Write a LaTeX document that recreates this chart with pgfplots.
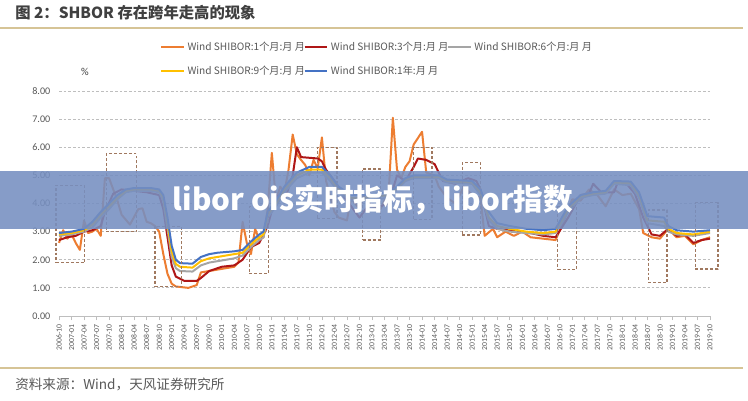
\documentclass[border=0pt]{standalone}
\usepackage{fontspec}
\setmainfont{Carlito}
\newfontfamily\cjk{Noto Sans CJK SC}
\usepackage{pgfplots}
\pgfplotsset{compat=1.18}

\definecolor{cOne}{RGB}{237,125,49}
\definecolor{cThree}{RGB}{175,22,22}
\definecolor{cSix}{RGB}{165,165,165}
\definecolor{cNine}{RGB}{255,192,0}
\definecolor{cYear}{RGB}{68,114,196}
\definecolor{boxc}{RGB}{160,120,95}
\definecolor{gridc}{RGB}{190,190,190}
\definecolor{labc}{RGB}{89,89,89}
\definecolor{titlec}{RGB}{64,64,64}
\definecolor{rulec}{RGB}{214,196,150}
\definecolor{bandc}{RGB}{118,143,193}

\begin{document}
\begin{tikzpicture}
\path[use as bounding box, fill=white] (0,0) rectangle (561pt,300pt);

% title, rules, source
\node[anchor=west, inner sep=0pt, text=titlec, font=\cjk\bfseries\fontsize{11.5}{12}\selectfont]
  at (11.25pt,290.5pt) {图 2：SHBOR 存在跨年走高的现象};
\draw[rulec, line width=1.1pt] (0pt,279pt) -- (557pt,279pt);
\draw[rulec, line width=1.1pt] (0pt,24pt) -- (557pt,24pt);
\node[anchor=west, inner sep=0pt, text=labc, font=\cjk\fontsize{10.2}{11}\selectfont]
  at (11.25pt,11.5pt) {资料来源：Wind，天风证券研究所};
\node[text=titlec, font=\fontsize{8}{9}\selectfont, inner sep=0pt] at (63.75pt,246pt) {\%};

\begin{axis}[
  scale only axis,
  width=488.25pt, height=168.75pt,
  at={(44.25pt,63pt)}, anchor=south west,
  xmin=0, xmax=156, ymin=0, ymax=8,
  clip=false,
  axis x line*=bottom, axis y line*=left,
  y axis line style={draw=none},
  x axis line style={draw=gridc, line width=0.6pt},
  ytick={0,1,...,8},
  ymajorgrids,
  grid style={gridc, line width=0.6pt, dash pattern=on 2pt off 1.5pt},
  ytick style={draw=none},
  xtick={0,3,...,156},
  xtick style={draw=gridc, line width=0.5pt},
  major tick length=3pt,
  tick align=outside,
  xticklabels={2006-10,2007-01,2007-04,2007-07,2007-10,2008-01,2008-04,2008-07,2008-10,2009-01,2009-04,2009-07,2009-10,2010-01,2010-04,2010-07,2010-10,2011-01,2011-04,2011-07,2011-10,2012-01,2012-04,2012-07,2012-10,2013-01,2013-04,2013-07,2013-10,2014-01,2014-04,2014-07,2014-10,2015-01,2015-04,2015-07,2015-10,2016-01,2016-04,2016-07,2016-10,2017-01,2017-04,2017-07,2017-10,2018-01,2018-04,2018-07,2018-10,2019-01,2019-04,2019-07,2019-10},
  xticklabel style={rotate=90, anchor=east, text=labc, font=\fontsize{5.8}{6}\selectfont},
  yticklabel style={text=labc, font=\fontsize{7.6}{8}\selectfont,
    /pgf/number format/fixed, /pgf/number format/fixed zerofill,
    /pgf/number format/precision=2, /pgf/number format/assume math mode=true},
  legend columns=3,
  legend cell align=left,
  legend style={draw=none, fill=none, at={(0.155,1.23)}, anchor=north west,
    inner sep=0pt, row sep=6pt, text=labc, font=\cjk\fontsize{7.6}{8.5}\selectfont,
    /tikz/every even column/.append style={column sep=-3pt}},
  legend image code/.code={\draw[#1] (0pt,0pt) -- (17pt,0pt);},
  every axis plot/.append style={line width=1.5pt, line join=round},
]

% SHIBOR 1M
\addplot[cOne] coordinates {
(0,2.6)(1,3.05)(2,2.75)(3,2.9)(4,2.6)(5,2.35)(6,3.4)(7,2.95)(8,3.0)(9,3.1)(10,2.85)
(11,4.9)(12,4.9)(13,4.5)(14,4.1)(15,3.6)(17,3.25)(19,3.8)(20,3.83)(21,3.35)(22,3.3)
(23,3.2)(24,3.0)(25,2.2)(26,1.5)(27,1.15)(28,1.05)(31,1.0)(33,1.1)(34,1.55)(36,1.6)
(38,1.65)(40,1.7)(42,1.75)(43,1.9)(44,3.35)(45,2.6)(46,2.2)(47,3.1)(48,2.7)(49,2.8)
(50,3.8)(51,5.8)(52,4.1)(53,4.6)(54,4.4)(55,5.2)(56,6.45)(57,5.75)(58,5.55)(59,5.37)
(60,5.0)(61,5.55)(62,5.25)(63,6.35)(64,4.8)(65,4.25)(66,3.7)(67,3.5)(69,3.4)(70,4.2)
(72,3.8)(73,4.25)(75,3.9)(77,3.8)(79,4.4)(80,7.05)(81,5.2)(82,4.9)(83,5.3)(84,5.5)
(85,6.1)(87,6.55)(88,5.1)(90,5.0)(91,4.6)(93,4.2)(95,4.0)(97,4.6)(99,4.3)(101,4.2)
(102,2.85)(104,3.1)(105,2.8)(107,3.0)(109,2.85)(111,3.0)(113,2.8)(116,2.75)(119,2.7)
(121,3.4)(123,4.15)(125,4.1)(127,4.5)(129,4.3)(131,3.9)(133,4.5)(135,4.3)(137,4.35)
(139,3.8)(140,2.95)(142,2.8)(144,2.75)(146,3.1)(148,2.8)(150,2.85)(152,2.55)(154,2.7)(156,2.8)
};
\addlegendentry{Wind SHIBOR:1个月:月 月}

% SHIBOR 3M
\addplot[cThree] coordinates {
(0,2.7)(2,2.8)(4,2.85)(6,3.0)(8,3.05)(10,3.2)(11,3.7)(13,4.35)(15,4.5)(18,4.45)(21,4.4)
(24,4.3)(25,3.8)(26,2.8)(27,1.8)(28,1.4)(30,1.25)(33,1.25)(34,1.35)(36,1.6)(39,1.75)
(42,1.8)(44,2.0)(46,2.45)(48,2.6)(50,3.2)(52,4.3)(54,4.1)(56,5.0)(57,6.0)(58,5.65)
(62,5.6)(63,5.5)(64,5.2)(66,4.8)(68,4.3)(70,3.9)(72,3.5)(74,3.9)(77,3.9)(79,4.0)
(81,5.0)(83,4.8)(85,5.3)(86,5.6)(88,5.55)(90,5.4)(92,4.8)(95,4.7)(98,4.9)(100,4.8)
(101,4.5)(103,3.2)(105,3.1)(110,3.0)(113,2.95)(116,2.85)(119,2.8)(122,3.5)(125,4.3)
(127,4.35)(128,4.7)(130,4.4)(133,4.4)(134,4.8)(136,4.7)(138,4.35)(140,3.5)(142,2.9)
(144,2.85)(146,3.1)(148,2.85)(150,2.9)(152,2.6)(154,2.7)(156,2.75)
};
\addlegendentry{Wind SHIBOR:3个月:月 月}

% SHIBOR 6M
\addplot[cSix] coordinates {
(0,2.85)(3,2.9)(6,3.0)(8,3.15)(10,3.5)(12,3.8)(14,4.15)(16,4.4)(18,4.45)(22,4.45)
(24,4.4)(25,4.1)(26,3.1)(27,2.1)(28,1.7)(29,1.6)(32,1.58)(34,1.8)(36,1.9)(38,1.95)
(42,2.05)(44,2.15)(46,2.45)(48,2.7)(49,2.8)(50,3.5)(52,3.9)(54,4.4)(57,4.9)(60,5.1)
(63,5.1)(65,4.8)(67,4.4)(70,4.1)(73,4.1)(76,4.15)(79,4.2)(81,4.5)(83,4.8)(85,4.9)
(91,4.9)(93,4.75)(99,4.7)(101,4.3)(103,3.4)(105,3.1)(108,3.0)(112,2.95)(116,2.9)
(119,2.95)(122,3.7)(125,4.2)(128,4.3)(131,4.35)(133,4.7)(137,4.65)(139,4.2)(141,3.3)
(145,3.2)(146,3.0)(148,2.9)(152,2.85)(156,2.95)
};
\addlegendentry{Wind SHIBOR:6个月:月 月}

% SHIBOR 9M
\addplot[cNine] coordinates {
(0,2.9)(3,2.95)(6,3.05)(8,3.25)(10,3.6)(12,3.9)(14,4.2)(16,4.45)(18,4.5)(22,4.5)
(24,4.45)(25,4.2)(26,3.3)(27,2.3)(28,1.85)(29,1.75)(32,1.72)(34,1.95)(36,2.05)(38,2.1)
(42,2.2)(44,2.25)(46,2.55)(48,2.8)(49,2.9)(50,3.6)(52,4.0)(54,4.5)(57,5.0)(60,5.2)
(63,5.2)(65,4.9)(67,4.5)(70,4.2)(73,4.2)(76,4.25)(79,4.3)(81,4.55)(83,4.85)(85,4.95)
(91,4.95)(93,4.8)(99,4.75)(101,4.4)(103,3.5)(105,3.2)(108,3.1)(112,3.0)(116,2.95)
(119,3.0)(122,3.8)(125,4.25)(128,4.35)(131,4.4)(133,4.75)(137,4.72)(139,4.3)(141,3.4)
(145,3.35)(146,3.1)(148,2.95)(152,2.9)(156,3.0)
};
\addlegendentry{Wind SHIBOR:9个月:月 月}

% SHIBOR 1Y
\addplot[cYear] coordinates {
(0,2.95)(3,3.0)(6,3.1)(8,3.35)(10,3.7)(12,4.0)(14,4.3)(16,4.5)(18,4.55)(22,4.55)
(24,4.5)(25,4.3)(26,3.5)(27,2.5)(28,2.0)(29,1.88)(32,1.86)(34,2.1)(36,2.2)(38,2.25)
(42,2.3)(44,2.35)(46,2.65)(48,2.9)(49,3.0)(50,3.7)(52,4.1)(54,4.6)(57,5.1)(60,5.3)
(63,5.3)(65,5.0)(67,4.6)(70,4.3)(73,4.3)(76,4.35)(79,4.4)(81,4.6)(83,4.9)(85,5.0)
(91,5.0)(93,4.85)(99,4.8)(101,4.5)(103,3.7)(105,3.3)(108,3.2)(112,3.1)(116,3.05)
(119,3.1)(122,3.9)(125,4.3)(128,4.4)(131,4.45)(133,4.8)(137,4.78)(139,4.4)(141,3.55)
(145,3.5)(146,3.2)(148,3.05)(152,3.0)(156,3.05)
};
\addlegendentry{Wind SHIBOR:1年:月 月}

% dashed boxes marking year ends
\pgfplotsset{every axis plot/.append style={forget plot}}
\addplot[boxc, line width=0.9pt, dash pattern=on 2.2pt off 1.5pt] coordinates {(-0.7,1.9)(6.2,1.9)(6.2,4.65)(-0.7,4.65)(-0.7,1.9)};
\addplot[boxc, line width=0.9pt, dash pattern=on 2.2pt off 1.5pt] coordinates {(11.3,3.0)(18.6,3.0)(18.6,5.77)(11.3,5.77)(11.3,3.0)};
\addplot[boxc, line width=0.9pt, dash pattern=on 2.2pt off 1.5pt] coordinates {(23.0,1.04)(29.4,1.04)(29.4,3.18)(23.0,3.18)(23.0,1.04)};
\addplot[boxc, line width=0.9pt, dash pattern=on 2.2pt off 1.5pt] coordinates {(45.6,1.52)(50.2,1.52)(50.2,3.89)(45.6,3.89)(45.6,1.52)};
\addplot[boxc, line width=0.9pt, dash pattern=on 2.2pt off 1.5pt] coordinates {(61.9,3.48)(66.6,3.48)(66.6,6.0)(61.9,6.0)(61.9,3.48)};
\addplot[boxc, line width=0.9pt, dash pattern=on 2.2pt off 1.5pt] coordinates {(72.8,2.7)(77.1,2.7)(77.1,5.23)(72.8,5.23)(72.8,2.7)};
\addplot[boxc, line width=0.9pt, dash pattern=on 2.2pt off 1.5pt] coordinates {(85.0,3.44)(89.4,3.44)(89.4,6.0)(85.0,6.0)(85.0,3.44)};
\addplot[boxc, line width=0.9pt, dash pattern=on 2.2pt off 1.5pt] coordinates {(96.6,2.88)(101.0,2.88)(101.0,5.46)(96.6,5.46)(96.6,2.88)};
\addplot[boxc, line width=0.9pt, dash pattern=on 2.2pt off 1.5pt] coordinates {(119.5,1.64)(124.0,1.64)(124.0,3.89)(119.5,3.89)(119.5,1.64)};
\addplot[boxc, line width=0.9pt, dash pattern=on 2.2pt off 1.5pt] coordinates {(141.2,1.19)(145.7,1.19)(145.7,3.77)(141.2,3.77)(141.2,1.19)};
\addplot[boxc, line width=0.9pt, dash pattern=on 2.2pt off 1.5pt] coordinates {(152.5,1.67)(157.9,1.67)(157.9,4.03)(152.5,4.03)(152.5,1.67)};
\end{axis}

% overlay band across the picture
\fill[bandc, fill opacity=0.88] (0pt,128.25pt) rectangle (561pt,171.75pt);
\node[text=white, font=\cjk\bfseries\fontsize{22.2}{23}\selectfont, inner sep=0pt]
  at (279.75pt,150pt) {libor ois实时指标，libor指数};
\end{tikzpicture}
\end{document}
